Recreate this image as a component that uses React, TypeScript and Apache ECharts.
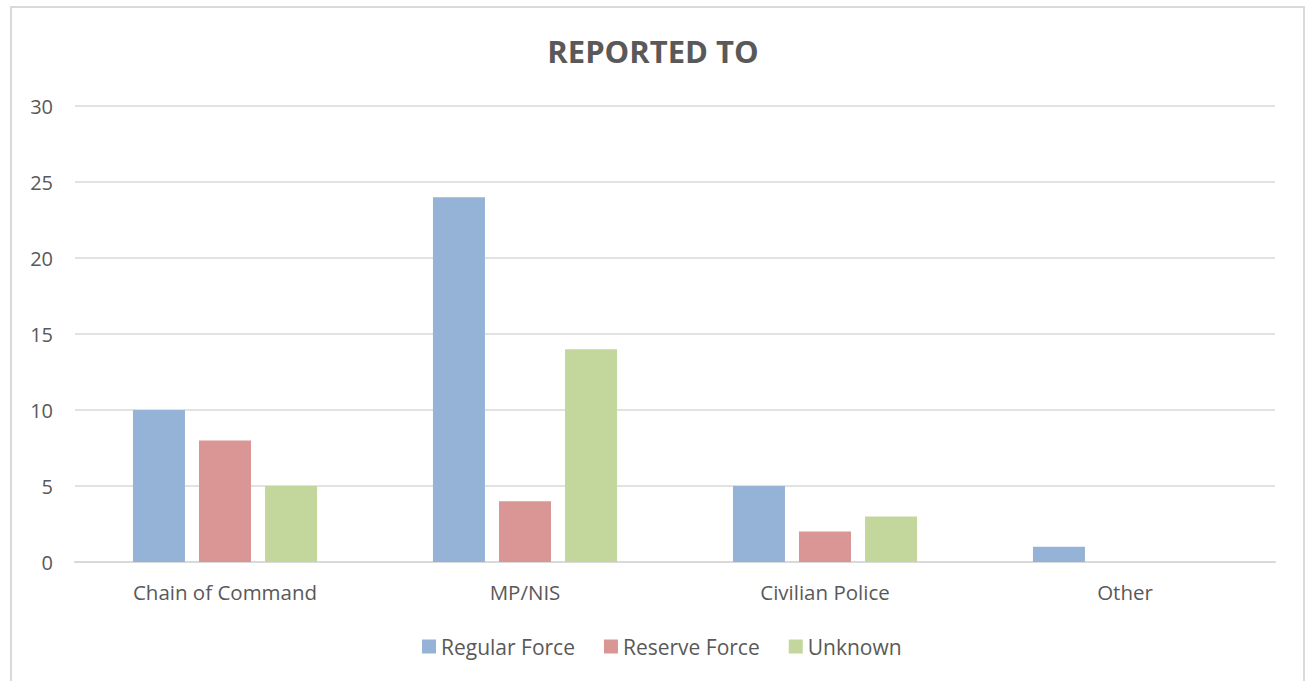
import React, { useEffect, useRef } from "react";
import * as echarts from "echarts";

const categories = ["Chain of Command", "MP/NIS", "Civilian Police", "Other"];
const regularForce = [10, 24, 5, 1];
const reserveForce = [8, 4, 2, 0];
const unknown = [5, 14, 3, 0];
const seriesNames = ["Regular Force", "Reserve Force", "Unknown"];

export default function App() {
  const ref = useRef<HTMLDivElement>(null);
  useEffect(() => {
    if (!ref.current) return;
    const chart = echarts.init(ref.current, null, { renderer: "svg" });
    const font = "'Open Sans', 'Noto Sans', sans-serif";
    chart.setOption({
      animation: false,
      backgroundColor: "#ffffff",
      title: {
        text: "REPORTED TO",
        left: "center",
        top: 30,
        textStyle: { fontFamily: font, fontSize: 31, fontWeight: "bold", color: "#595959" },
      },
      graphic: [
        {
          type: "rect",
          shape: { x: 11, y: 7, width: 1293, height: 700 },
          style: { fill: "none", stroke: "#d9d9d9", lineWidth: 2 },
          silent: true,
        },
      ],
      legend: {
        bottom: 19,
        left: 417,
        itemWidth: 14,
        itemHeight: 14,
        itemGap: 29,
        icon: "rect",
        textStyle: { fontFamily: font, fontSize: 21, color: "#595959" },
        data: seriesNames,
      },
      grid: { left: 75, right: 31, top: 106, bottom: 119, containLabel: false },
      xAxis: {
        type: "category",
        data: categories,
        axisLine: { lineStyle: { color: "#d9d9d9", width: 2 } },
        axisTick: { show: false },
        axisLabel: { fontFamily: font, fontSize: 20.5, color: "#595959", margin: 19 },
      },
      yAxis: {
        type: "value",
        min: 0,
        max: 30,
        interval: 5,
        axisLine: { show: false },
        axisTick: { show: false },
        splitLine: { lineStyle: { color: "#d9d9d9", width: 1.5 } },
        axisLabel: { fontFamily: font, fontSize: 20, color: "#595959", margin: 22 },
      },
      series: [
        { name: seriesNames[0], type: "bar", data: regularForce, barWidth: 52, barGap: "27%", itemStyle: { color: "#95B3D7" } },
        { name: seriesNames[1], type: "bar", data: reserveForce, barWidth: 52, barGap: "27%", itemStyle: { color: "#D99694" } },
        { name: seriesNames[2], type: "bar", data: unknown, barWidth: 52, barGap: "27%", itemStyle: { color: "#C3D69B" } },
      ],
    });
    return () => chart.dispose();
  }, []);
  return (
    <div
      ref={ref}
      style={{ position: "fixed", left: 0, top: 0, width: 1306, height: 681 }}
    />
  );
}
